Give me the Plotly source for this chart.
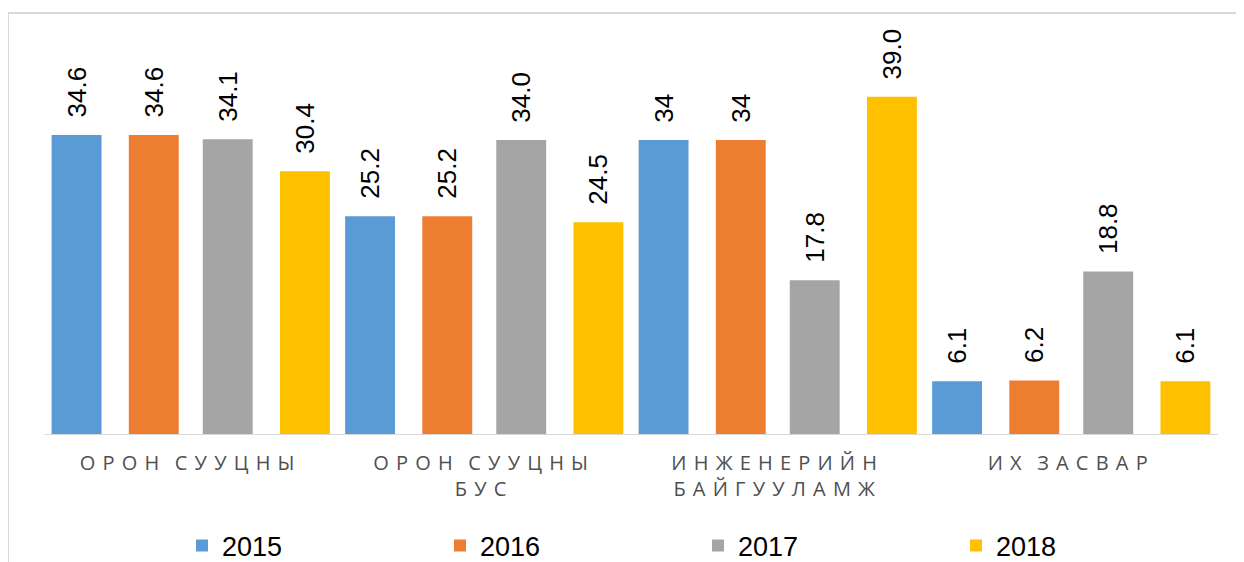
import plotly.graph_objects as go

categories = ["ОРОН СУУЦНЫ", "ОРОН СУУЦНЫ|БУС", "ИНЖЕНЕРИЙН|БАЙГУУЛАМЖ", "ИХ ЗАСВАР"]
series_names = ["2015", "2016", "2017", "2018"]
values_2015 = [34.6, 25.2, 34.0, 6.1]
values_2016 = [34.6, 25.2, 34.0, 6.2]
values_2017 = [34.1, 34.0, 17.8, 18.8]
values_2018 = [30.4, 24.5, 39.0, 6.1]
labels_2015 = ["34.6", "25.2", "34", "6.1"]
labels_2016 = ["34.6", "25.2", "34", "6.2"]
labels_2017 = ["34.1", "34.0", "17.8", "18.8"]
labels_2018 = ["30.4", "24.5", "39.0", "6.1"]

colors = ["#5B9BD5", "#ED7D31", "#A5A5A5", "#FFC000"]
offsets = [-0.474, -0.211, 0.041, 0.304]
bar_w = 0.17

NB = "\u00a0"
LETTER_GAP = NB + "\u200a"
WORD_GAP = NB * 3


def spaced(label):
    lines = label.split("|")
    out = []
    for ln in lines:
        words = ln.split(" ")
        out.append(WORD_GAP.join(LETTER_GAP.join(list(w)) for w in words) + LETTER_GAP)
    return "<br>".join(out)


tick_text = [spaced(c) for c in categories]
xpos = list(range(len(categories)))

fig = go.Figure()
all_vals = [values_2015, values_2016, values_2017, values_2018]
all_labels = [labels_2015, labels_2016, labels_2017, labels_2018]
for i, name in enumerate(series_names):
    fig.add_trace(go.Bar(
        x=xpos,
        y=all_vals[i],
        name=name,
        marker=dict(color=colors[i], line=dict(width=0)),
        width=bar_w,
        offset=offsets[i],
        text=[NB * 2 + t for t in all_labels[i]],
        textposition="outside",
        textangle=-90,
        constraintext="none",
        cliponaxis=False,
        textfont=dict(family="Liberation Sans, Arial", size=26, color="#000000"),
    ))

# page body has an 8px default margin
OFF = 8
W, H = 1244 - OFF, 562 - OFF
# plot area in screen pixels: x 44..1218, y 45..434
ml = 44 - OFF
mr = W - (1218 - OFF)
mt = 45 - OFF
mb = H - (434 - OFF)
pw = W - ml - mr
ph = H - mt - mb


def sx(px):
    return (px - OFF - ml) / pw


def sy(py):
    return (H - mb - (py - OFF)) / ph


fig.update_layout(
    width=W, height=H,
    margin=dict(l=ml, r=mr, t=mt, b=mb, autoexpand=False),
    paper_bgcolor="white", plot_bgcolor="white",
    barmode="overlay",
    showlegend=True,
    legend=dict(
        orientation="h",
        x=sx(182), xanchor="left",
        y=sy(546), yanchor="middle",
        entrywidth=213, entrywidthmode="pixels",
        font=dict(family="Liberation Sans, Arial", size=27, color="#000000"),
        itemwidth=30,
        bgcolor="rgba(0,0,0,0)",
        traceorder="normal",
    ),
    xaxis=dict(
        tickmode="array", tickvals=xpos, ticktext=tick_text,
        range=[-0.5, 3.5],
        showline=True, linecolor="#D9D9D9", linewidth=1,
        showgrid=False, zeroline=False, ticks="",
        automargin=False,
        ticklabelstandoff=11,
        tickfont=dict(family="Open Sans, Noto Sans", size=20, color="#505050"),
    ),
    yaxis=dict(
        range=[0, 45], visible=False, showgrid=False, zeroline=False,
        automargin=False,
    ),
    shapes=[dict(
        type="rect", xref="paper", yref="paper",
        x0=sx(8), x1=sx(1270),
        y0=sy(590), y1=sy(13),
        line=dict(color="#D9D9D9", width=2), fillcolor="rgba(0,0,0,0)",
        layer="below",
    )],
)

fig.write_html("out.html")
